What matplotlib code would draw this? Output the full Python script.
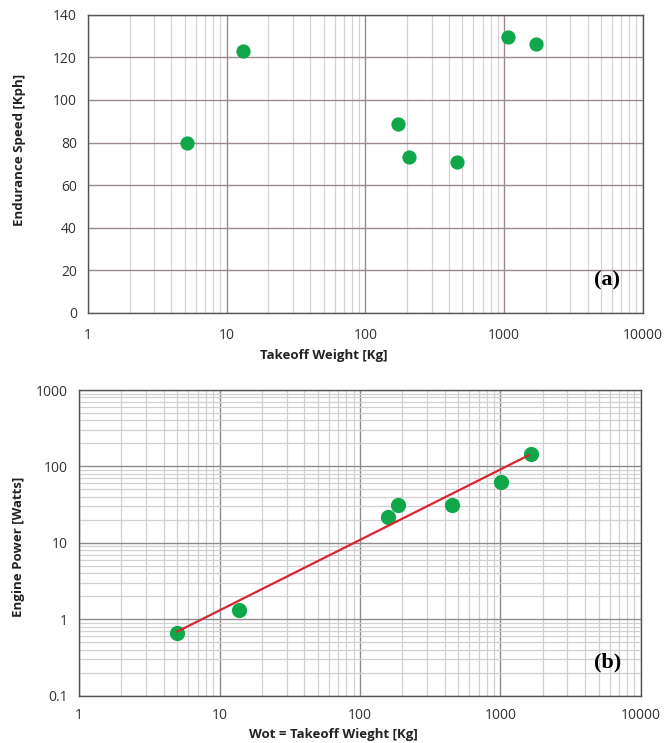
import numpy as np
from matplotlib import pyplot as plt
from matplotlib.ticker import LogLocator, FixedLocator, NullFormatter

# panel (a) data
wt_a = [5.2, 13.2, 171, 205, 456, 1062, 1700]
speed_a = [80, 123, 88.5, 73, 71, 129.5, 126.5]

# panel (b) data
wt_b = [5.0, 13.7, 158, 188, 453, 1016, 1645]
power_b = [0.66, 1.34, 21.5, 31, 31, 62, 146]
fit_x = [5.0, 1600]
fit_y = [0.69, 141]

xticks = [1, 10, 100, 1000, 10000]
xticklabels = ['1', '10', '100', '1000', '10000']
yticks_a = [0, 20, 40, 60, 80, 100, 120, 140]
yticks_b = [0.1, 1, 10, 100, 1000]
yticklabels_b = ['0.1', '1', '10', '100', '1000']

green = '#10a64a'
red = '#d8262c'
tickfont = dict(family='Open Sans', size=10, color='#333333')
labelfont = dict(family='Open Sans', size=9.5, weight='bold', color='#222222')

fig = plt.figure(figsize=(6.71, 7.43), dpi=100)

# ---- (a) ----
ax1 = fig.add_axes([0.131, 0.579, 0.827, 0.401])
ax1.set_xscale('log')
ax1.set_xlim(1, 10000)
ax1.set_ylim(0, 140)
ax1.xaxis.set_major_locator(FixedLocator(xticks))
ax1.xaxis.set_minor_locator(LogLocator(base=10, subs=np.arange(2, 10)))
ax1.xaxis.set_minor_formatter(NullFormatter())
ax1.set_xticks(xticks, xticklabels)
ax1.set_yticks(yticks_a)
ax1.grid(which='major', color='#9a8a8c', lw=1.0)
ax1.grid(which='minor', axis='x', color='#d2d2d2', lw=0.9)
ax1.set_axisbelow(True)
ax1.scatter(wt_a, speed_a, s=105, color=green, zorder=3, linewidths=0)
ax1.tick_params(which='both', length=0)
ax1.tick_params(axis='x', pad=11)
ax1.tick_params(axis='y', pad=8)
for lab in ax1.get_xticklabels() + ax1.get_yticklabels():
    lab.set(**tickfont)
ax1.set_xlabel('Takeoff Weight [Kg]', **labelfont)
ax1.xaxis.set_label_coords(0.425, -0.122)
ax1.set_ylabel('Endurance Speed [Kph]', **labelfont)
ax1.yaxis.set_label_coords(-0.112, 0.547)
ax1.text(0.935, 0.11, '(a)', transform=ax1.transAxes, ha='center', va='center',
         family='Liberation Serif', weight='bold', size=16)
for s in ax1.spines.values():
    s.set_color('#555555')
    s.set_linewidth(1.0)

# ---- (b) ----
ax2 = fig.add_axes([0.118, 0.0637, 0.837, 0.4113])
ax2.set_xscale('log')
ax2.set_yscale('log')
ax2.set_xlim(1, 10000)
ax2.set_ylim(0.1, 1000)
ax2.xaxis.set_minor_locator(LogLocator(base=10, subs=np.arange(2, 10)))
ax2.yaxis.set_minor_locator(LogLocator(base=10, subs=np.arange(2, 10)))
ax2.xaxis.set_minor_formatter(NullFormatter())
ax2.yaxis.set_minor_formatter(NullFormatter())
ax2.set_xticks(xticks, xticklabels)
ax2.set_yticks(yticks_b, yticklabels_b)
ax2.grid(which='major', color='#8c8c8c', lw=1.0)
ax2.grid(which='minor', color='#d0d0d0', lw=0.9)
ax2.set_axisbelow(True)
ax2.scatter(wt_b, power_b, s=120, color=green, zorder=3, linewidths=0)
ax2.plot(fit_x, fit_y, color=red, lw=1.6, zorder=4)
ax2.tick_params(which='both', length=0)
ax2.tick_params(axis='x', pad=9)
ax2.tick_params(axis='y', pad=8)
for lab in ax2.get_xticklabels() + ax2.get_yticklabels():
    lab.set(**tickfont)
ax2.set_xlabel('Wot = Takeoff Wieght [Kg]', **labelfont)
ax2.xaxis.set_label_coords(0.452, -0.106)
ax2.set_ylabel('Engine Power [Watts]', **labelfont)
ax2.yaxis.set_label_coords(-0.096, 0.486)
ax2.text(0.941, 0.107, '(b)', transform=ax2.transAxes, ha='center', va='center',
         family='Liberation Serif', weight='bold', size=16)
for s in ax2.spines.values():
    s.set_color('#555555')
    s.set_linewidth(1.0)

fig.savefig('out.png', dpi=100)
